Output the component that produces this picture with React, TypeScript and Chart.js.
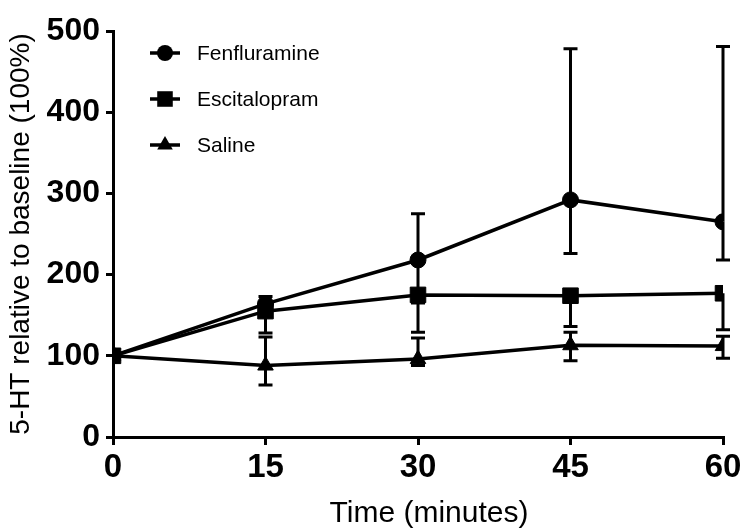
import React, { useEffect, useRef } from "react";
import { Chart, registerables } from "chart.js";

Chart.register(...registerables);

const timePoints = [0, 15, 30, 45, 60];
const seriesNames = ["Fenfluramine", "Escitalopram", "Saline"];

const fenMean = [100, 164, 218, 292, 265];
const fenHigh = [100, 173, 275, 478, 481];
const fenLow = [100, 158, 165, 226, 218];

const escMean = [100, 155, 175, 174, 177];
const escHigh: (number | null)[] = [null, null, null, null, null];
const escLow = [100, 128, 129, 136, 132];

const salMean = [100, 88, 96, 113, 112];
const salHigh = [100, 123, 122, 129, 124];
const salLow = [100, 64, 88, 94, 97];

const xTicks = [0, 15, 30, 45, 60];
const yTicks = [0, 100, 200, 300, 400, 500];

const xTitle = "Time (minutes)";
const yTitle = "5-HT relative to baseline (100%)";

const FONT = "Arial, 'Liberation Sans', Helvetica, sans-serif";

const errorBarPlugin = {
  id: "errorBars",
  beforeDatasetsDraw(chart: any) {
    const ctx = chart.ctx;
    const xs = chart.scales.x;
    const ys = chart.scales.y;
    ctx.save();
    ctx.strokeStyle = "#000";
    ctx.lineWidth = 3;
    ctx.lineCap = "butt";
    chart.data.datasets.forEach((ds: any) => {
      const lows = ds.errLow as (number | null)[];
      const highs = ds.errHigh as (number | null)[];
      ds.data.forEach((v: number, i: number) => {
        const px = xs.getPixelForValue(timePoints[i]);
        const py = ys.getPixelForValue(v);
        const cap = 7;
        [lows[i], highs[i]].forEach((e) => {
          if (e === null || e === undefined || e === v) return;
          const ey = ys.getPixelForValue(e);
          ctx.beginPath();
          ctx.moveTo(px, py);
          ctx.lineTo(px, ey);
          ctx.moveTo(px - cap, ey);
          ctx.lineTo(px + cap, ey);
          ctx.stroke();
        });
      });
    });
    ctx.restore();
  },
};

function drawMarker(ctx: CanvasRenderingContext2D, style: string, r: number, x: number, y: number) {
  ctx.beginPath();
  if (style === "circle") {
    ctx.arc(x, y, r, 0, Math.PI * 2);
  } else if (style === "rect") {
    const s = Math.SQRT1_2 * r;
    ctx.rect(x - s, y - s, 2 * s, 2 * s);
  } else {
    let rad = 0;
    ctx.moveTo(x + Math.sin(rad) * r, y - Math.cos(rad) * r);
    rad += (2 * Math.PI) / 3;
    ctx.lineTo(x + Math.sin(rad) * r, y - Math.cos(rad) * r);
    rad += (2 * Math.PI) / 3;
    ctx.lineTo(x + Math.sin(rad) * r, y - Math.cos(rad) * r);
    ctx.closePath();
  }
  ctx.fill();
}

const legendPlugin = {
  id: "customLegend",
  afterDraw(chart: any) {
    const ctx = chart.ctx;
    ctx.save();
    chart.data.datasets.forEach((ds: any, i: number) => {
      const y = 53 + i * 46;
      ctx.strokeStyle = "#000";
      ctx.lineWidth = 3.5;
      ctx.beginPath();
      ctx.moveTo(150, y);
      ctx.lineTo(180, y);
      ctx.stroke();
      ctx.fillStyle = "#000";
      drawMarker(ctx, ds.pointStyle, ds.pointRadius, 165, y);
      ctx.font = `21px ${FONT}`;
      ctx.textBaseline = "middle";
      ctx.textAlign = "left";
      ctx.fillText(ds.label, 197, y + 1);
    });
    // x-axis title
    ctx.font = `30px ${FONT}`;
    ctx.textAlign = "center";
    ctx.textBaseline = "alphabetic";
    ctx.fillStyle = "#000";
    ctx.fillText(xTitle, 429, 522);
    ctx.restore();
  },
};

export default function App() {
  const ref = useRef<HTMLCanvasElement | null>(null);

  useEffect(() => {
    if (!ref.current) return;
    const mk = (label: string, mean: number[], low: (number | null)[], high: (number | null)[], style: string, r: number) => ({
      label,
      data: mean,
      errLow: low,
      errHigh: high,
      borderColor: "#000",
      backgroundColor: "#000",
      borderWidth: 3.5,
      pointStyle: style,
      pointRadius: r,
      pointBorderWidth: 1,
      pointBackgroundColor: "#000",
      pointBorderColor: "#000",
      tension: 0,
      fill: false,
    });
    const chart = new Chart(ref.current, {
      type: "line",
      data: {
        labels: timePoints,
        datasets: [
          mk(seriesNames[0], fenMean, fenLow, fenHigh, "circle", 8),
          mk(seriesNames[1], escMean, escLow, escHigh, "rect", 11),
          mk(seriesNames[2], salMean, salLow, salHigh, "triangle", 9),
        ] as any,
      },
      options: {
        animation: false,
        responsive: false,
        layout: { padding: { top: 31, right: 27, left: 0, bottom: 0 } },
        plugins: { legend: { display: false }, tooltip: { enabled: false } },
        scales: {
          x: {
            type: "linear",
            min: 0,
            max: 60,
            afterFit: (s: any) => {
              s.height = 95;
            },
            afterBuildTicks: (s: any) => {
              s.ticks = xTicks.map((v) => ({ value: v }));
            },
            border: { display: true, color: "#000", width: 3 },
            grid: { display: true, drawOnChartArea: false, drawTicks: true, tickLength: 8, color: "#000", lineWidth: 3 },
            ticks: { color: "#000", font: { family: FONT, size: 33, weight: "bold" }, padding: 3, maxRotation: 0 },
            title: { display: false },
          },
          y: {
            type: "linear",
            min: 0,
            max: 500,
            afterFit: (s: any) => {
              s.width = 113;
            },
            afterBuildTicks: (s: any) => {
              s.ticks = yTicks.map((v) => ({ value: v }));
            },
            border: { display: true, color: "#000", width: 3 },
            grid: { display: true, drawOnChartArea: false, drawTicks: true, tickLength: 7, color: "#000", lineWidth: 3 },
            ticks: { color: "#000", font: { family: FONT, size: 32, weight: "bold" }, padding: 6 },
            title: { display: true, text: yTitle, color: "#000", font: { family: FONT, size: 28 }, padding: { top: 4, bottom: 0 } },
          },
        },
      } as any,
      plugins: [errorBarPlugin, legendPlugin],
    });
    return () => chart.destroy();
  }, []);

  return (
    <div style={{ position: "fixed", left: 0, top: 0, width: 750, height: 532, background: "#fff" }}>
      <canvas ref={ref} width={750} height={532} style={{ display: "block" }} />
    </div>
  );
}
